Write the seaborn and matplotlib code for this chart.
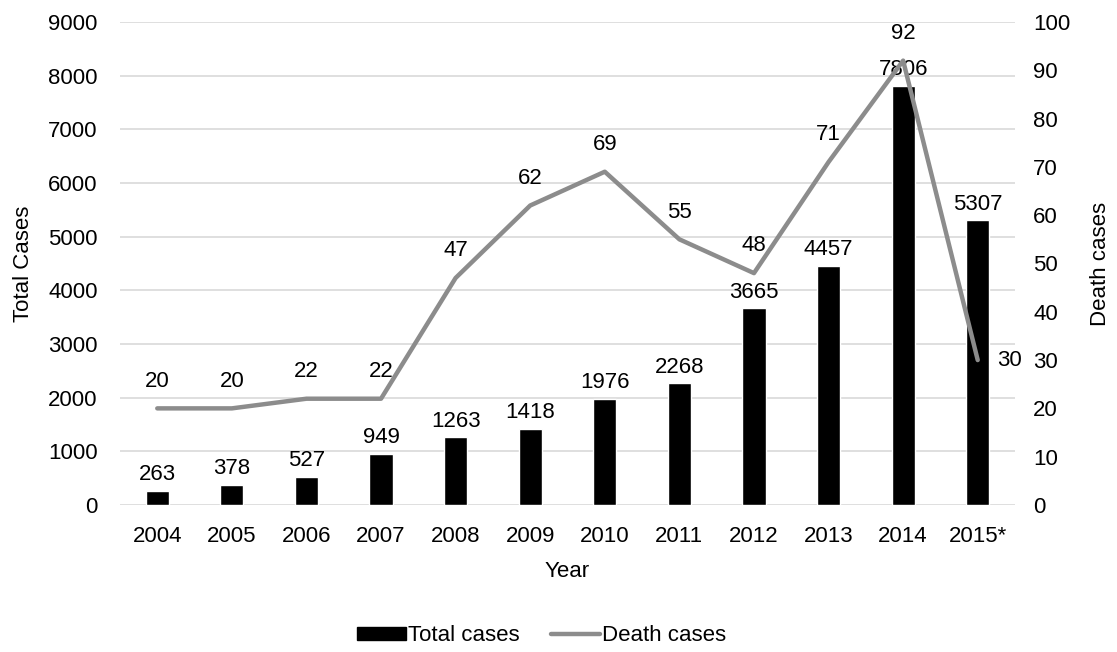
import pandas as pd
import seaborn as sns
import matplotlib.pyplot as plt
from matplotlib.patches import Patch
from matplotlib.lines import Line2D

years = ['2004', '2005', '2006', '2007', '2008', '2009', '2010', '2011', '2012', '2013', '2014', '2015*']
total_cases = [263, 378, 527, 949, 1263, 1418, 1976, 2268, 3665, 4457, 7806, 5307]
death_cases = [20, 20, 22, 22, 47, 62, 69, 55, 48, 71, 92, 30]

df = pd.DataFrame({'year': years, 'total': total_cases, 'deaths': death_cases})
df['pos'] = range(len(df))

sns.set_style("white")
plt.rcParams['font.family'] = ['Liberation Sans', 'DejaVu Sans']
plt.rcParams['font.size'] = 16
plt.rcParams['text.color'] = 'black'
plt.rcParams['axes.labelcolor'] = 'black'
plt.rcParams['xtick.color'] = 'black'
plt.rcParams['ytick.color'] = 'black'

line_col = '#8c8c8c'
fs = 16

fig = plt.figure(figsize=(11.17, 6.52), dpi=100)
fig.subplots_adjust(left=0.1074, right=0.9087, top=0.9663, bottom=0.2255)
ax = fig.add_subplot(111)

# Bars for total cases
sns.barplot(x='year', y='total', data=df, order=years, color='black', width=0.31, ax=ax, zorder=2)
ax.set_ylim(0, 9000)
ax.set_yticks(range(0, 9001, 1000))
ax.yaxis.grid(True, color='#d9d9d9', linewidth=1.2, zorder=0)
ax.set_axisbelow(True)
ax.set_xlim(-0.5, len(years) - 0.5)
ax.set_xlabel('Year', fontsize=fs, labelpad=10)
ax.set_ylabel('Total Cases', fontsize=fs, labelpad=10)
for i, v in enumerate(total_cases):
    ax.annotate(str(v), (i, v), xytext=(0, 4), textcoords='offset points',
                ha='center', va='bottom', fontsize=fs, zorder=5)

# Line for death cases on a second axis
ax2 = ax.twinx()
sns.lineplot(x='pos', y='deaths', data=df, color=line_col, linewidth=3.2, ax=ax2, sort=False)
ax2.set_ylim(0, 100)
ax2.set_yticks(range(0, 101, 10))
ax2.set_xlim(-0.5, len(years) - 0.5)
ax2.set_ylabel('Death cases', fontsize=fs, labelpad=14)
ax2.grid(False)
for i, v in enumerate(death_cases):
    if i == len(death_cases) - 1:
        ax2.annotate(str(v), (i, v), xytext=(14, 0), textcoords='offset points',
                     ha='left', va='center', fontsize=fs)
    else:
        ax2.annotate(str(v), (i, v), xytext=(0, 12), textcoords='offset points',
                     ha='center', va='bottom', fontsize=fs)

for a in (ax, ax2):
    for s in a.spines.values():
        s.set_visible(False)
    a.tick_params(length=0, labelsize=fs)
ax.tick_params(axis='x', pad=15)
ax.tick_params(axis='y', pad=16)
ax2.tick_params(axis='y', pad=13)

handles = [Patch(facecolor='black', edgecolor='black'),
           Line2D([0], [0], color=line_col, linewidth=3.2)]
fig.legend(handles, ['Total cases', 'Death cases'], loc='center', bbox_to_anchor=(0.485, 0.025),
           ncol=2, frameon=False, fontsize=fs, handlelength=2.2, handleheight=0.55,
           handletextpad=0.1, columnspacing=1.4)

fig.savefig('out.png', dpi=100)
